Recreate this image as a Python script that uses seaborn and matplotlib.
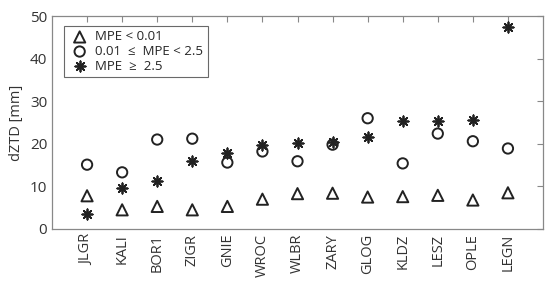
import matplotlib
matplotlib.use("Agg")
import matplotlib.pyplot as plt
import seaborn as sns
import pandas as pd

stations = ["JLGR", "KALI", "BOR1", "ZIGR", "GNIE", "WROC", "WLBR", "ZARY",
            "GLOG", "KLDZ", "LESZ", "OPLE", "LEGN"]
low_mpe = [7.8, 4.5, 5.3, 4.5, 5.3, 7.0, 8.3, 8.4, 7.5, 7.6, 7.9, 6.8, 8.5]
mid_mpe = [15.1, 13.3, 21.0, 21.2, 15.6, 18.2, 15.9, 19.8, 26.0, 15.4, 22.4, 20.6, 18.9]
high_mpe = [3.5, 9.6, 11.3, 15.9, 17.9, 19.7, 20.1, 20.4, 21.6, 25.4, 25.4, 25.7, 47.4]
labels = ["MPE < 0.01", "0.01  \u2264  MPE < 2.5", "MPE  \u2265  2.5"]

sns.set_style("white")
plt.rcParams["font.family"] = ["Open Sans", "DejaVu Sans"]

fig = plt.figure(figsize=(5.5, 2.91), dpi=100)
ax = fig.add_axes([52/550, 1 - 229/291, (543-52)/550, (229-16)/291])

x = list(range(len(stations)))
df_low = pd.DataFrame({"x": x, "y": low_mpe})
df_mid = pd.DataFrame({"x": x, "y": mid_mpe})
df_high = pd.DataFrame({"x": x, "y": high_mpe})

sns.scatterplot(data=df_low, x="x", y="y", marker="^", s=65, facecolor="none",
                edgecolor="#222222", linewidth=1.4, ax=ax, label=labels[0])
sns.scatterplot(data=df_mid, x="x", y="y", marker="o", s=55, facecolor="none",
                edgecolor="#222222", linewidth=1.4, ax=ax, label=labels[1])
sns.scatterplot(data=df_high, x="x", y="y", marker=(8, 2, 0), s=55,
                color="#222222", edgecolor="#222222", linewidth=1.3, ax=ax, label=labels[2])

ax.set_xlim(-1, len(stations))
ax.set_ylim(0, 50)
ax.set_xticks(x)
ax.set_xticklabels(stations, rotation=90, fontsize=10.5, color="#333333")
ax.set_yticks([0, 10, 20, 30, 40, 50])
ax.tick_params(axis="y", labelsize=11, colors="#333333")
ax.tick_params(direction="in", top=True, right=True, length=4, color="#888888", width=0.8)
ax.set_xlabel("")
ax.set_ylabel("dZTD [mm]", fontsize=10.5, color="#333333")
for sp in ax.spines.values():
    sp.set_color("#888888")
    sp.set_linewidth(0.9)

leg = ax.legend(loc="upper left", bbox_to_anchor=(0.012, 0.985), fontsize=9.5,
                frameon=True, fancybox=False, edgecolor="#444444",
                handletextpad=0.4, labelspacing=0.12, borderpad=0.35, handlelength=1.6)
leg.get_frame().set_linewidth(0.8)

fig.savefig("out.png", dpi=100)
